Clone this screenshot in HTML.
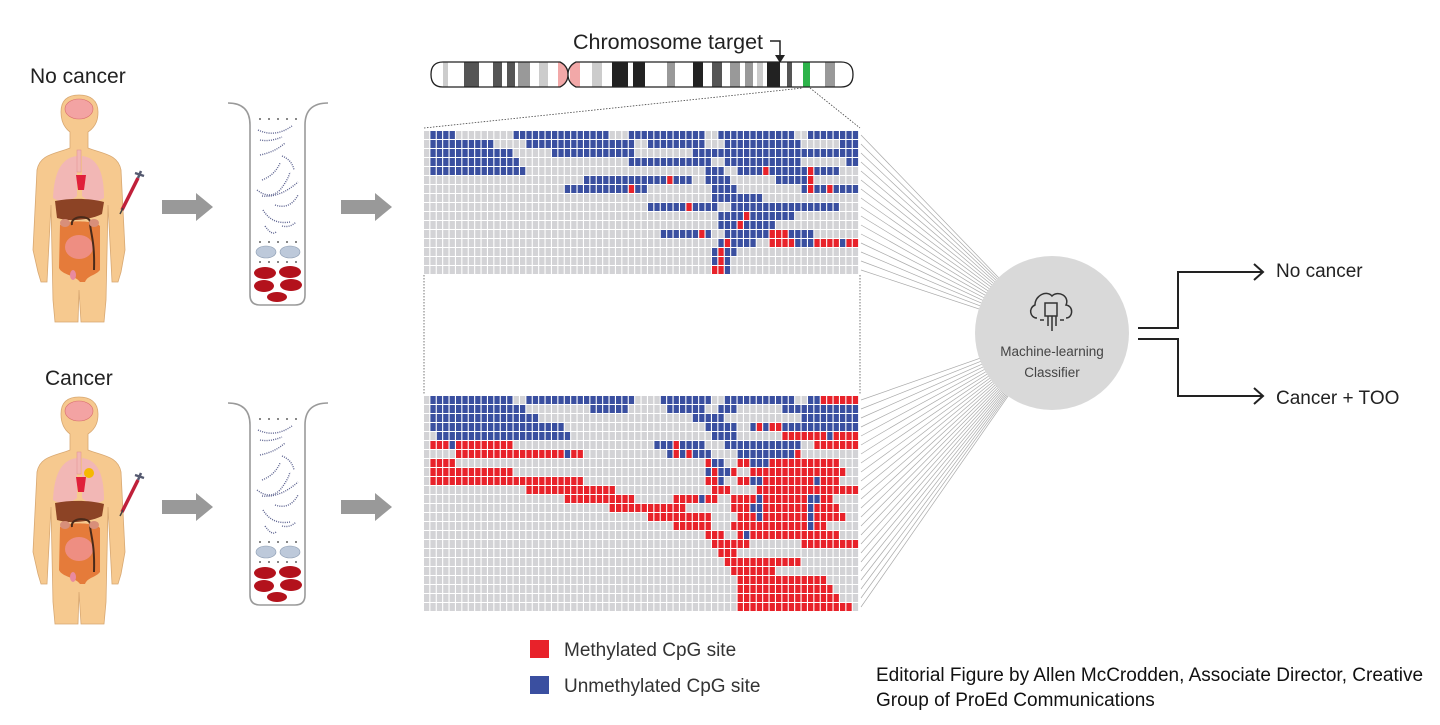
<!DOCTYPE html>
<html><head><meta charset="utf-8"><style>
html,body{margin:0;padding:0;background:#fff;}
body{width:1440px;height:725px;overflow:hidden;position:relative;font-family:"Liberation Sans",Arial,sans-serif;}
svg{position:absolute;left:0;top:0;}
</style></head><body>
<svg id="s" width="1440" height="725" viewBox="0 0 1440 725" xmlns="http://www.w3.org/2000/svg">
<defs>
<g id="fig">
  <path d="M70 148 C55 154 40 154 37 170 L33 250 L38 272 L41 282 L47 282 L48 262 L51 205 L53 300 L55 322 L78 322 L79 290 L81 322 L104 322 L106 300 L108 205 L111 262 L112 282 L118 282 L121 272 L125 250 L121 170 C118 154 103 154 88 148 L88 132 C97 126 98 118 98 112 C98 100 90 95 79 95 C68 95 61 100 61 112 C61 118 62 126 70 132 Z" fill="#f6c98f" stroke="#d8a872" stroke-width="0.8"/>
  <ellipse cx="79" cy="109" rx="14" ry="10" fill="#f3a3a3" stroke="#d86c6c" stroke-width="0.6"/>
  <path d="M77 156 C60 158 54 175 53 198 C60 203 70 202 77 196 Z" fill="#f2b7b5"/>
  <path d="M82 156 C99 158 104 175 104 198 C97 203 88 202 82 196 Z" fill="#f2b7b5"/>
  <rect x="77" y="150" width="4" height="22" fill="#f2b7b5" stroke="#e09090" stroke-width="0.5"/>
  <path d="M76 175 L86 175 L84 190 L78 190 Z" fill="#e0203a"/>
  <path d="M55 201 C70 198 90 198 104 202 L102 214 C90 220 70 222 57 218 Z" fill="#8c4325"/>
  <path d="M60 225 C65 220 95 220 100 226 L100 270 C95 276 88 275 85 282 L80 282 C75 275 62 275 59 268 Z" fill="#e57b3a"/>
  <ellipse cx="79" cy="247" rx="14" ry="12" fill="#ee8e82"/>
  <path d="M72 225 C70 215 90 215 90 222 C90 232 95 240 94 270" stroke="#4a2a1a" stroke-width="2" fill="none"/>
  <ellipse cx="65" cy="223" rx="5" ry="4" fill="#d88f7a"/><ellipse cx="94" cy="223" rx="5" ry="4" fill="#d88f7a"/>
  <ellipse cx="73" cy="275" rx="3" ry="5" fill="#e88aa0"/>
  <path d="M122 210 L138 178" stroke="#c0203a" stroke-width="3.5"/>
  <path d="M120 214 L123 208" stroke="#444" stroke-width="1.5"/>
  <path d="M138 178 L141 171 M135 173 L144 176" stroke="#555a70" stroke-width="2.5"/>
</g>
<g id="tube">
  <path d="M228 103 Q250 103 250 125 L250 295 Q250 305 260 305 L295 305 Q305 305 305 295 L305 125 Q305 103 328 103" stroke="#9a9a9a" stroke-width="1.6" fill="none"/>
  <g fill="#333"><circle cx="260" cy="119" r="0.9"/><circle cx="269" cy="119" r="0.9"/><circle cx="278" cy="119" r="0.9"/><circle cx="287" cy="119" r="0.9"/><circle cx="296" cy="119" r="0.9"/>
  <circle cx="260" cy="242" r="0.9"/><circle cx="269" cy="242" r="0.9"/><circle cx="278" cy="242" r="0.9"/><circle cx="287" cy="242" r="0.9"/><circle cx="296" cy="242" r="0.9"/>
  <circle cx="260" cy="262" r="0.9"/><circle cx="269" cy="262" r="0.9"/><circle cx="278" cy="262" r="0.9"/><circle cx="287" cy="262" r="0.9"/><circle cx="296" cy="262" r="0.9"/></g>
  <g stroke="#5d6390" stroke-width="1.4" fill="none" stroke-dasharray="1 1.2">
   <path d="M258 130 Q275 138 292 126"/><path d="M260 140 Q270 142 282 137"/><path d="M260 155 Q275 152 285 143"/>
   <path d="M282 156 Q292 160 294 170"/><path d="M262 180 Q275 175 280 163"/><path d="M257 190 Q270 200 280 190 Q288 180 290 172"/>
   <path d="M275 205 Q290 210 298 195"/><path d="M263 210 Q272 225 290 222"/><path d="M265 226 Q272 236 276 232"/><path d="M282 226 Q290 228 296 222"/>
   <path d="M262 196 Q280 198 298 182"/>
  </g>
  <ellipse cx="266" cy="252" rx="10" ry="6" fill="#bdc9da" stroke="#8a9ab0" stroke-width="0.6"/>
  <ellipse cx="290" cy="252" rx="10" ry="6" fill="#bdc9da" stroke="#8a9ab0" stroke-width="0.6"/>
  <g fill="#b3121c"><ellipse cx="265" cy="273" rx="11" ry="6"/><ellipse cx="290" cy="272" rx="11" ry="6"/><ellipse cx="264" cy="286" rx="10" ry="6"/><ellipse cx="291" cy="285" rx="11" ry="6"/><ellipse cx="277" cy="297" rx="10" ry="5"/></g>
</g>
<g id="arr"><path d="M0 -7 L34 -7 L34 -14 L51 0 L34 14 L34 7 L0 7 Z" fill="#999"/></g>
</defs>

<text x="30" y="83" font-size="21" fill="#222">No cancer</text>
<text x="45" y="385" font-size="21" fill="#222">Cancer</text>
<use href="#fig"/>
<use href="#fig" transform="translate(0,302)"/>
<circle cx="89" cy="473" r="5" fill="#f5b800"/>
<use href="#tube"/>
<use href="#tube" transform="translate(0,300)"/>
<use href="#arr" transform="translate(162,207)"/>
<use href="#arr" transform="translate(341,207)"/>
<use href="#arr" transform="translate(162,507)"/>
<use href="#arr" transform="translate(341,507)"/>

<text x="573" y="49" font-size="21.5" fill="#222">Chromosome target</text>
<path d="M770 41 L780 41 L780 58" stroke="#222" stroke-width="1.5" fill="none"/>
<path d="M775 55 L780 63 L785 55 Z" fill="#222"/>
<g id="chrom"></g>
<line x1="424" y1="128" x2="803" y2="88" stroke="#444" stroke-width="0.8" stroke-dasharray="1.5 1.5"/>
<line x1="810" y1="88" x2="860" y2="128" stroke="#444" stroke-width="0.8" stroke-dasharray="1.5 1.5"/>
<line x1="424" y1="275" x2="424" y2="394" stroke="#555" stroke-width="0.8" stroke-dasharray="1.5 1.5"/>
<line x1="860" y1="275" x2="860" y2="394" stroke="#555" stroke-width="0.8" stroke-dasharray="1.5 1.5"/>
<g id="fan"></g>
<g id="grids"></g>
<circle cx="1052" cy="333" r="77" fill="#d9d9d9"/>
<g stroke="#333" stroke-width="1.5" fill="none">
 <path d="M1037 318 C1030 318 1028 308 1035 305 C1035 295 1047 290 1052 296 C1058 290 1070 296 1066 305 C1074 306 1073 318 1066 318"/>
 <rect x="1045" y="303" width="12" height="13"/>
 <path d="M1048 316 L1048 326 M1052 316 L1052 331 M1056 316 L1056 326 M1044 320 L1040 320 M1060 320 L1064 320"/>
</g>
<text x="1052" y="356" font-size="13.5" fill="#444" text-anchor="middle">Machine-learning</text>
<text x="1052" y="377" font-size="13.5" fill="#444" text-anchor="middle">Classifier</text>
<path d="M1138 328 L1178 328 L1178 272 L1262 272 M1138 339 L1178 339 L1178 396 L1262 396" stroke="#222" stroke-width="2" fill="none"/>
<path d="M1254 264 L1263 272 L1254 280 M1254 388 L1263 396 L1254 404" stroke="#222" stroke-width="2" fill="none"/>
<text x="1276" y="277" font-size="19" fill="#222">No cancer</text>
<text x="1276" y="404" font-size="19" fill="#222">Cancer + TOO</text>

<rect x="530" y="640" width="19" height="18" fill="#e8222a"/>
<rect x="530" y="676" width="19" height="18" fill="#3a4fa0"/>
<text x="564" y="656" font-size="19" fill="#333">Methylated CpG site</text>
<text x="564" y="692" font-size="19" fill="#333">Unmethylated CpG site</text>
<text x="876" y="681" font-size="19" fill="#111">Editorial Figure by Allen McCrodden, Associate Director, Creative</text>
<text x="876" y="706" font-size="19" fill="#111">Group of ProEd Communications</text>
</svg>
<script>
(function(){
var NS="http://www.w3.org/2000/svg";
function el(p,t,a){var e=document.createElementNS(NS,t);for(var k in a)e.setAttribute(k,a[k]);p.appendChild(e);return e;}
var ch=document.getElementById('chrom');
var bands=[[443,448,'#ccc'],[464,479,'#555'],[493,502,'#555'],[507,515,'#555'],[518,530,'#999'],[539,548,'#ccc'],[558,568,'#f2a8a8'],[570,580,'#f2a8a8'],[592,602,'#ccc'],[612,628,'#222'],[633,645,'#222'],[667,675,'#999'],[693,703,'#222'],[712,722,'#555'],[730,740,'#999'],[745,753,'#999'],[757,763,'#ccc'],[767,780,'#222'],[787,792,'#555'],[803,810,'#2db34a'],[825,835,'#999']];
var clipP="M443 62 L560 62 Q568 66 568 74.5 Q568 66 576 62 L841 62 Q853 62 853 74.5 Q853 87 841 87 L576 87 Q568 83 568 74.5 Q568 83 560 87 L443 87 Q431 87 431 74.5 Q431 62 443 62 Z";
var cp=el(ch,'clipPath',{id:'cc'});el(cp,'path',{d:clipP});
var g=el(ch,'g',{'clip-path':'url(#cc)'});
el(g,'rect',{x:431,y:62,width:422,height:25,fill:'#fff'});
bands.forEach(function(b){el(g,'rect',{x:b[0],y:62,width:b[1]-b[0],height:25,fill:b[2]});});
el(ch,'path',{d:clipP,fill:'none',stroke:'#222','stroke-width':1.3});
var B=1,R=2;
function parse(rows){return rows.map(function(r){var a=[];for(var i=0;i<68;i++)a.push(0);r.forEach(function(s){for(var c=s[0];c<=s[1];c++)a[c]=s[2];});return a;});}
var topRows=[
[[1,4,B],[14,28,B],[32,43,B],[46,57,B],[60,67,B]],
[[1,10,B],[16,32,B],[35,43,B],[47,58,B],[65,67,B]],
[[1,13,B],[20,32,B],[42,67,B]],
[[1,14,B],[32,44,B],[47,58,B],[66,67,B]],
[[1,15,B],[44,46,B],[49,52,B],[53,53,R],[54,59,B],[60,60,R],[61,64,B]],
[[25,37,B],[38,38,R],[39,41,B],[44,47,B],[55,59,B],[60,60,R]],
[[22,31,B],[32,32,R],[33,34,B],[45,48,B],[59,59,B],[60,60,R],[61,62,B],[63,63,R],[64,67,B]],
[[45,52,B]],
[[35,40,B],[41,41,R],[42,45,B],[48,64,B]],
[[46,49,B],[50,50,R],[51,57,B]],
[[46,48,B],[49,49,R],[50,54,B]],
[[37,42,B],[43,43,R],[44,44,B],[47,53,B],[54,56,R],[57,60,B]],
[[46,46,B],[47,47,R],[48,51,B],[54,57,R],[58,60,B],[61,64,R],[65,65,B],[66,67,R]],
[[45,45,B],[46,46,R],[47,48,B]],
[[45,45,B],[46,46,R],[47,47,B]],
[[45,46,R],[47,47,B]]];
var botRows=[
[[1,13,B],[16,32,B],[37,44,B],[47,57,B],[60,61,B],[62,67,R]],
[[1,15,B],[26,31,B],[38,43,B],[46,48,B],[56,67,B]],
[[1,17,B],[42,46,B],[59,67,B]],
[[1,21,B],[44,48,B],[51,51,B],[52,52,R],[53,53,B],[54,55,R],[56,67,B]],
[[2,22,B],[45,48,B],[56,62,R],[63,63,B],[64,67,R]],
[[1,3,R],[4,4,B],[5,13,R],[36,38,B],[39,39,R],[40,43,B],[47,58,B],[61,67,R]],
[[5,21,R],[22,22,B],[23,24,R],[38,38,B],[39,39,R],[40,40,B],[41,41,R],[42,44,B],[49,57,B],[58,58,R]],
[[1,4,R],[44,44,R],[45,46,B],[49,50,R],[51,53,B],[54,64,R]],
[[1,13,R],[44,44,B],[45,45,R],[46,47,B],[48,48,R],[51,65,R]],
[[1,24,R],[44,45,R],[46,46,B],[49,50,R],[51,52,B],[53,60,R],[61,61,B],[62,64,R]],
[[16,29,R],[45,47,R],[52,67,R]],
[[22,32,R],[39,42,R],[43,43,B],[44,45,R],[48,51,R],[52,52,B],[53,59,R],[60,61,B],[62,63,R]],
[[29,40,R],[48,50,R],[51,52,B],[53,59,R],[60,60,B],[61,64,R]],
[[35,44,R],[49,51,R],[52,52,B],[53,59,R],[60,60,B],[61,65,R]],
[[39,44,R],[48,59,R],[60,60,B],[61,62,R]],
[[44,46,R],[49,49,R],[50,50,B],[51,64,R]],
[[45,50,R],[59,67,R]],
[[46,48,R]],
[[47,58,R]],
[[48,54,R]],
[[49,62,R]],
[[49,63,R]],
[[49,64,R]],
[[49,66,R]]];
var cols=['#d3d3d6','#3a4fa0','#e8222a'];
var G=document.getElementById('grids'),F=document.getElementById('fan');
function draw(rows,y0){parse(rows).forEach(function(a,i){a.forEach(function(v,c){el(G,'rect',{x:(424+c*6.4).toFixed(2),y:y0+i*9,width:5.3,height:8,fill:cols[v]});});
 var yy=y0+i*9+4;el(F,'line',{x1:861,y1:yy,x2:1052,y2:333,stroke:'#aaa','stroke-width':0.7});});}
draw(topRows,131);draw(botRows,396);
})();
</script>
</body></html>
